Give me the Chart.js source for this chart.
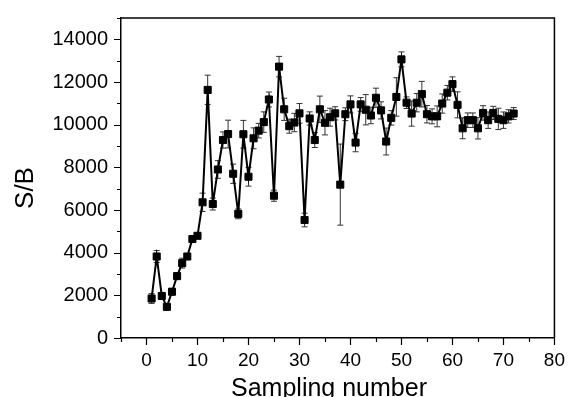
<!DOCTYPE html>
<html>
<head>
<meta charset="utf-8">
<script src="https://cdn.jsdelivr.net/npm/chart.js@4/dist/chart.umd.min.js"></script>
<style>
html,body{margin:0;padding:0;background:#fff;}
#c{display:block;}
</style>
</head>
<body>
<canvas id="c" width="569" height="397"></canvas>
<script>
const samplingNumber = [1,2,3,4,5,6,7,8,9,10,11,12,13,14,15,16,17,18,19,20,21,22,23,24,25,26,27,28,29,30,31,32,33,34,35,36,37,38,39,40,41,42,43,44,45,46,47,48,49,50,51,52,53,54,55,56,57,58,59,60,61,62,63,64,65,66,67,68,69,70,71,72];
const sbValues = [1850,3820,1970,1460,2170,2900,3510,3820,4640,4790,6360,11630,6280,7900,9280,9560,7700,5820,9550,7560,9360,9720,10120,11180,6670,12720,10720,9930,10100,10530,5530,10290,9280,10720,10090,10350,10530,7190,10490,10950,9160,10950,10700,10430,11260,10670,9210,10320,11300,13060,11030,10520,11030,11430,10490,10390,10390,10990,11500,11900,10930,9830,10210,10210,9830,10550,10210,10550,10270,10210,10390,10520];
const sbErrors = [230,280,100,100,150,150,230,100,100,120,430,690,280,415,380,650,450,230,650,440,490,340,480,350,260,480,520,330,430,460,320,310,350,620,570,420,310,1900,300,400,430,320,710,385,450,400,630,340,900,350,270,590,430,600,410,350,490,450,340,340,610,490,340,340,500,340,385,310,500,385,310,280];
const xTickValues = [0,10,20,30,40,50,60,70,80];
const xMinorValues = [-5,5,15,25,35,45,55,65,75];
const yTickValues = [0,2000,4000,6000,8000,10000,12000,14000];
const yMinorValues = [1000,3000,5000,7000,9000,11000,13000,15000];

const FONT = "'Liberation Sans', Arial, sans-serif";

const errorBars = {
  id: 'errorBars',
  beforeDatasetsDraw(chart) {
    const ctx = chart.ctx, xs = chart.scales.x, ys = chart.scales.y;
    ctx.save();
    ctx.strokeStyle = '#333';
    ctx.lineWidth = 1;
    for (let i = 0; i < samplingNumber.length; i++) {
      const px = xs.getPixelForValue(samplingNumber[i]);
      const yt = ys.getPixelForValue(sbValues[i] + sbErrors[i]);
      const yb = ys.getPixelForValue(sbValues[i] - sbErrors[i]);
      ctx.beginPath();
      ctx.moveTo(px, yt); ctx.lineTo(px, yb);
      ctx.moveTo(px - 3, yt); ctx.lineTo(px + 3, yt);
      ctx.moveTo(px - 3, yb); ctx.lineTo(px + 3, yb);
      ctx.stroke();
    }
    ctx.restore();
  }
};

const frameAndTicks = {
  id: 'frameAndTicks',
  afterDraw(chart) {
    const ctx = chart.ctx, xs = chart.scales.x, ys = chart.scales.y, a = chart.chartArea;
    ctx.save();
    ctx.strokeStyle = '#000';
    ctx.lineWidth = 1.5;
    ctx.beginPath();
    ctx.moveTo(a.left, a.top); ctx.lineTo(a.right, a.top); ctx.lineTo(a.right, a.bottom);
    ctx.stroke();
    ctx.lineWidth = 1.2;
    ctx.beginPath();
    yTickValues.forEach(v => { const p = Math.round(ys.getPixelForValue(v)) + 0.5; ctx.moveTo(a.left - 7, p); ctx.lineTo(a.left, p); });
    yMinorValues.forEach(v => { const p = Math.round(ys.getPixelForValue(v)) + 0.5; ctx.moveTo(a.left - 4, p); ctx.lineTo(a.left, p); });
    xTickValues.forEach(v => { const p = Math.round(xs.getPixelForValue(v)) + 0.5; ctx.moveTo(p, a.bottom); ctx.lineTo(p, a.bottom + 7); });
    xMinorValues.forEach(v => { const p = Math.round(xs.getPixelForValue(v)) + 0.5; ctx.moveTo(p, a.bottom); ctx.lineTo(p, a.bottom + 4); });
    ctx.stroke();
    // axis titles
    ctx.fillStyle = '#000';
    ctx.font = '25px ' + FONT;
    ctx.textAlign = 'center';
    ctx.textBaseline = 'alphabetic';
    ctx.fillText('Sampling number', 329, 396);
    ctx.translate(33, 188);
    ctx.rotate(-Math.PI / 2);
    ctx.font = '26px ' + FONT;
    ctx.textBaseline = 'alphabetic';
    ctx.fillText('S/B', 0, 0);
    ctx.restore();
  }
};

new Chart(document.getElementById('c'), {
  type: 'line',
  data: {
    datasets: [{
      data: samplingNumber.map((x, i) => ({ x: x, y: sbValues[i] })),
      borderColor: '#000',
      backgroundColor: '#000',
      borderWidth: 2,
      pointStyle: 'rect',
      pointRadius: 5,
      pointBorderWidth: 1,
      tension: 0
    }]
  },
  options: {
    responsive: false,
    animation: false,
    devicePixelRatio: 1,
    layout: { padding: { left: 0, right: 12, top: 14, bottom: 0 } },
    plugins: { legend: { display: false }, tooltip: { enabled: false }, title: { display: false } },
    scales: {
      x: {
        type: 'linear', min: -5, max: 80,
        afterBuildTicks: s => { s.ticks = xTickValues.map(v => ({ value: v })); },
        afterFit: s => { s.height = 59; },
        grid: { display: true, drawOnChartArea: false, drawTicks: true, tickLength: 7, color: 'rgba(0,0,0,0)' },
        border: { display: true, color: '#000', width: 1.5 },
        ticks: { color: '#000', font: { family: FONT, size: 19 }, padding: 4, maxRotation: 0, autoSkip: false }
      },
      y: {
        type: 'linear', min: 0, max: 15000,
        afterBuildTicks: s => { s.ticks = yTickValues.map(v => ({ value: v })); },
        afterFit: s => { s.width = 121; },
        grid: { display: true, drawOnChartArea: false, drawTicks: true, tickLength: 7, color: 'rgba(0,0,0,0)' },
        border: { display: true, color: '#000', width: 1.5 },
        ticks: { color: '#000', font: { family: FONT, size: 20 }, padding: 6, callback: v => String(v) }
      }
    }
  },
  plugins: [errorBars, frameAndTicks]
});
</script>
</body>
</html>
